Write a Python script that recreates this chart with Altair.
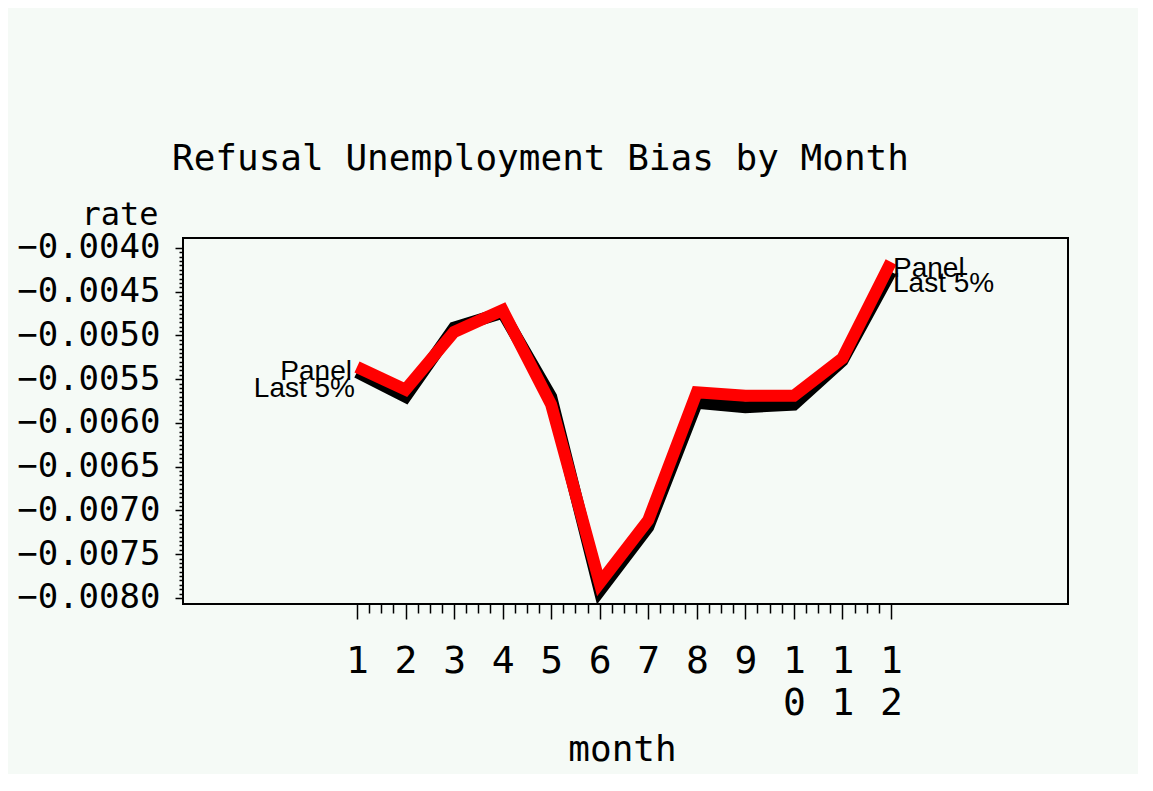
import altair as alt
import pandas as pd

# ---- data ----
months = list(range(1, 13))
panel = [-0.00536, -0.00562, -0.00496, -0.00471, -0.00579, -0.00783,
         -0.00711, -0.00565, -0.00569, -0.00569, -0.00526, -0.00416]
last5 = [-0.00542, -0.00570, -0.00491, -0.00474, -0.00570, -0.00792,
         -0.00719, -0.00577, -0.00582, -0.00579, -0.00529, -0.00427]
series_names = ["Panel", "Last 5%"]
series_colors = ["#ff0000", "#000000"]

x_ticks = [1 + 0.25 * i for i in range(45)]
y_ticks = [round(-0.0080 + 0.00005 * i, 6) for i in range(81)]

MONO = "DejaVu Sans Mono"
SANS = "Liberation Sans"
BG = "#f5faf6"

df_panel = pd.DataFrame({"month": months, "rate": panel, "series": series_names[0]})
df_last = pd.DataFrame({"month": months, "rate": last5, "series": series_names[1]})

xscale = alt.Scale(domain=[-2.584, 15.646], nice=False, zero=False)
yscale = alt.Scale(domain=[-0.008069, -0.003886], nice=False, zero=False)

x_axis = alt.Axis(
    values=x_ticks,
    domain=False,
    grid=False,
    tickColor="black",
    tickWidth=1.5,
    tickSize={"condition": {"test": "abs(datum.value - round(datum.value)) < 0.01", "value": 15}, "value": 9},
    labelExpr="abs(datum.value - round(datum.value)) > 0.01 ? '' : (datum.value >= 10 ? [toString(floor(datum.value/10)), toString(round(datum.value) % 10)] : toString(round(datum.value)))",
    labelFont=MONO,
    labelFontSize=38,
    labelLineHeight=42,
    labelColor="black",
    labelBaseline="top",
    labelPadding=23,
    labelOverlap=False,
    labelFlush=False,
    title="month",
    titleFont=MONO,
    titleFontSize=36,
    titleFontWeight="normal",
    titleColor="black",
    titleBaseline="alphabetic",
    titleX=439,
    titleY=156,
)

y_axis = alt.Axis(
    values=y_ticks,
    domain=False,
    grid=False,
    tickColor="black",
    tickWidth=1.5,
    tickSize={"condition": {"test": "abs(datum.value*2000 - round(datum.value*2000)) < 0.01", "value": 8}, "value": 4},
    labelExpr="abs(datum.value*2000 - round(datum.value*2000)) < 0.01 ? '\u2212' + format(abs(datum.value), '.4f') : ''",
    labelFont=MONO,
    labelFontSize=34,
    labelColor="black",
    labelBaseline="middle",
    labelPadding=15,
    labelOverlap=False,
    labelFlush=False,
    title="rate",
    titleFont=MONO,
    titleFontSize=32,
    titleFontWeight="normal",
    titleColor="black",
    titleAngle=0,
    titleAlign="right",
    titleBaseline="alphabetic",
    titleX=-25,
    titleY=-14,
)

X = alt.X("month:Q", scale=xscale, axis=x_axis)
Y = alt.Y("rate:Q", scale=yscale, axis=y_axis)

black_line = alt.Chart(df_last).mark_line(
    color=series_colors[1], strokeWidth=12, strokeCap="butt", strokeJoin="miter"
).encode(x=X, y=Y)

red_line = alt.Chart(df_panel).mark_line(
    color=series_colors[0], strokeWidth=12, strokeCap="butt", strokeJoin="miter"
).encode(x=X, y=Y)


def label(df_row, align, dx, dy):
    return alt.Chart(df_row).mark_text(
        align=align, baseline="alphabetic", dx=dx, dy=dy,
        font=SANS, fontSize=28, color="black"
    ).encode(x=X, y=Y, text="series:N")


lab_panel_l = label(df_panel[df_panel.month == 1], "right", -5, 13)
lab_last_l = label(df_last[df_last.month == 1], "right", -2, 25)
lab_panel_r = label(df_panel[df_panel.month == 12], "left", 2, 15)
lab_last_r = label(df_last[df_last.month == 12], "left", 2, 20)

chart = alt.layer(
    black_line, red_line, lab_panel_l, lab_last_l, lab_panel_r, lab_last_r
).properties(
    width=885,
    height=366,
    autosize=alt.AutoSizeParams(type="none"),
    padding={"left": 175, "top": 230, "right": 70, "bottom": 170},
    background=BG,
    title=alt.TitleParams(
        text="Refusal Unemployment Bias by Month",
        font=MONO, fontSize=36, fontWeight="normal", color="black",
        anchor="start", frame="group", dx=-11, dy=38, offset=30, baseline="alphabetic",
    ),
).configure_view(
    stroke="black", strokeWidth=2, fill=BG
)

chart.save("out.html", embed_options={"renderer": "svg", "actions": False})
